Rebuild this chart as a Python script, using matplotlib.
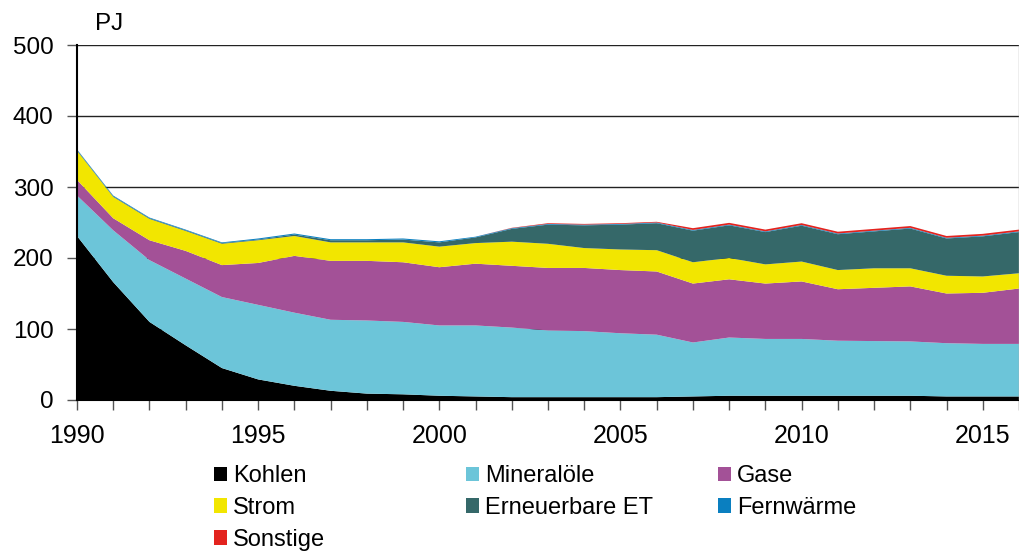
import matplotlib
matplotlib.use("Agg")
import matplotlib.pyplot as plt
from matplotlib.patches import Patch
import numpy as np

plt.rcParams['font.family'] = ['Liberation Sans', 'DejaVu Sans']

years = list(range(1990, 2017))
kohlen = [231, 166, 110, 77, 45, 29, 20, 13, 9, 8, 6, 5, 4, 4, 4, 4, 4, 5, 6, 6, 6, 6, 6, 6, 5, 5, 5]
mineraloele = [57, 73, 87, 94, 100, 105, 103, 100, 103, 102, 99, 100, 98, 94, 93, 90, 88, 76, 82, 80, 80, 77.5, 77, 76.5, 75, 74, 74]
gase = [22, 17, 28, 39, 45, 59, 80, 83, 84, 84, 82, 87, 87, 88, 89, 89, 89, 83, 82, 78, 81, 72.5, 75, 77.5, 70, 72, 78]
strom = [41, 30, 30, 28, 30, 32, 28, 26, 26, 28, 29, 29, 34, 34, 28, 29, 30, 30, 30, 27, 28, 27, 27.5, 25.5, 25, 23, 21.5]
erneuerbare = [1, 1, 1, 1, 1, 1, 2, 3, 3, 4, 6, 8, 18, 27, 32, 35, 38, 44.5, 46, 45.5, 50.5, 50.5, 52, 56, 52.5, 56.5, 58]
fernwaerme = [1, 1, 1, 1, 1, 1.5, 1.5, 1.5, 1.5, 1.5, 1.5, 1, 1, 1, 1, 1, 1, 1, 1, 1, 1, 1, 1, 1, 1, 1, 1]
sonstige = [0, 0, 0, 0, 0, 0, 0, 0, 0, 0, 0, 0, 0.5, 1, 1, 1, 1, 2.5, 2.5, 2.5, 2.5, 2.5, 2.5, 2.5, 2.5, 2.5, 2.5]

labels = ["Kohlen", "Mineralöle", "Gase", "Strom", "Erneuerbare ET", "Fernwärme", "Sonstige"]
colors = ["#000000", "#6CC5D9", "#A35197", "#F2E600", "#356869", "#0A7FC0", "#E3231E"]
yticks = [0, 100, 200, 300, 400, 500]
xticks_major = [1990, 1995, 2000, 2005, 2010, 2015]

fig = plt.figure(figsize=(10.2, 5.55), dpi=100)
ax = fig.add_axes([77/1020, 1-400/555, (1019-77)/1020, (400-45)/555])

series = [kohlen, mineraloele, gase, strom, erneuerbare, fernwaerme, sonstige]
ax.stackplot(years, *series, colors=colors, linewidth=0, zorder=2)

ax.set_xlim(1990, 2016)
ax.set_ylim(0, 500)
ax.set_yticks(yticks)
ax.set_xticks(xticks_major)
ax.set_xticks(years, minor=True)
for y in yticks[1:]:
    ax.axhline(y, color="#222222", lw=1.0, zorder=1)

ax.tick_params(axis='y', direction='out', length=7, width=1, color='#555555', pad=10, labelsize=17.5)
ax.tick_params(axis='x', which='both', direction='out', length=7, width=1, color='#555555', pad=10, labelsize=18)
for s in ['top', 'right']:
    ax.spines[s].set_visible(False)
ax.spines['left'].set_color('black')
ax.spines['left'].set_linewidth(1.5)
ax.spines['bottom'].set_color('black')
ax.spines['bottom'].set_linewidth(1.5)
ax.spines['left'].set_zorder(3)
ax.axvline(2016, color='#aaaaaa', lw=1, zorder=3)

fig.text(95/1020, 1-30/555, "PJ", fontsize=17.5, va='baseline', ha='left')

handles = [Patch(facecolor=c, edgecolor='none') for c in colors]
cols = [([0, 3, 6], 214), ([1, 4], 466), ([2, 5], 718)]
for idx, x0 in cols:
    leg = fig.legend([handles[i] for i in idx], [labels[i] for i in idx],
                     loc='upper left', bbox_to_anchor=(x0/1020, 1-465/555),
                     frameon=False, fontsize=17, handlelength=0.55, handleheight=0.55,
                     handletextpad=0.25, labelspacing=0.42, borderpad=0, borderaxespad=0)

fig.savefig("out.png", dpi=100)
